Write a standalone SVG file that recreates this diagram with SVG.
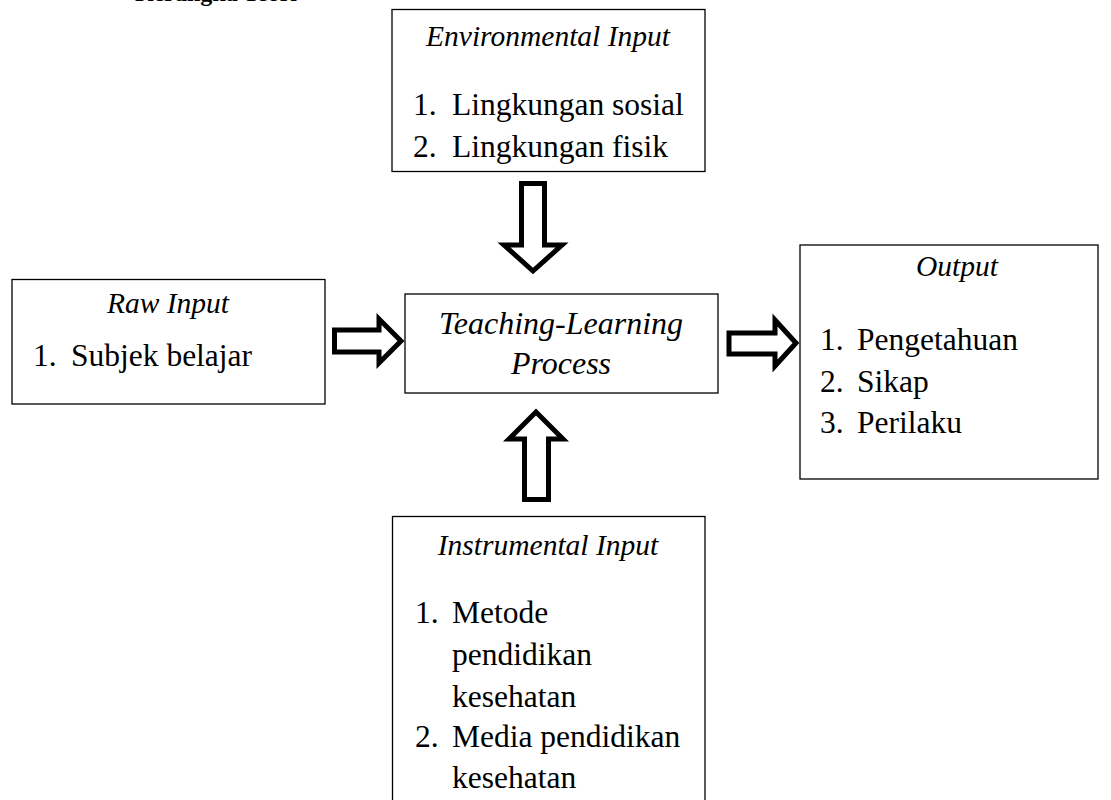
<svg xmlns="http://www.w3.org/2000/svg" width="1111" height="800" viewBox="0 0 1111 800">
<style>
.box{fill:#fff;stroke:#000;stroke-width:1.3}
.arrow{fill:#fff;stroke:#000;stroke-width:5;stroke-linejoin:miter}
.hd{font-family:"Liberation Serif","Times New Roman",serif;font-style:italic;font-size:29.5px;fill:#000}
.it{font-family:"Liberation Serif","Times New Roman",serif;font-size:31.5px;fill:#000}
.tl{font-family:"Liberation Serif","Times New Roman",serif;font-style:italic;font-size:32px;fill:#000}
.ttl{font-family:"Liberation Serif","Times New Roman",serif;font-weight:bold;font-size:24px;fill:#000}
</style>
<rect width="1111" height="800" fill="#fff"/>
<text class="ttl" x="135" y="0.8">Kerangka Teori</text>
<g id="environmental">
<rect class="box" x="392" y="9.5" width="313" height="162"/>
<text class="hd" x="548" y="46" text-anchor="middle">Environmental Input</text>
<text class="it" x="413" y="115">1.</text><text class="it" x="452" y="115">Lingkungan sosial</text>
<text class="it" x="413" y="157">2.</text><text class="it" x="452" y="157">Lingkungan fisik</text>
</g>
<g id="raw">
<rect class="box" x="12" y="279.5" width="313" height="124.5"/>
<text class="hd" x="168" y="313" text-anchor="middle">Raw Input</text>
<text class="it" x="33" y="366">1.</text><text class="it" x="71" y="366">Subjek belajar</text>
</g>
<g id="process">
<rect class="box" x="405" y="294" width="313" height="99"/>
<text class="tl" x="561" y="334" text-anchor="middle">Teaching-Learning</text>
<text class="tl" x="561" y="374" text-anchor="middle">Process</text>
</g>
<g id="output">
<rect class="box" x="800" y="245" width="298" height="234"/>
<text class="hd" x="957" y="276" text-anchor="middle">Output</text>
<text class="it" x="820" y="350">1.</text><text class="it" x="857" y="350">Pengetahuan</text>
<text class="it" x="820" y="392">2.</text><text class="it" x="857" y="392">Sikap</text>
<text class="it" x="820" y="433">3.</text><text class="it" x="857" y="433">Perilaku</text>
</g>
<g id="instrumental">
<rect class="box" x="392.5" y="516.5" width="312.5" height="300"/>
<text class="hd" x="548" y="555" text-anchor="middle">Instrumental Input</text>
<text class="it" x="415" y="623">1.</text><text class="it" x="452" y="623">Metode</text>
<text class="it" x="452" y="665">pendidikan</text>
<text class="it" x="452" y="707">kesehatan</text>
<text class="it" x="415" y="747">2.</text><text class="it" x="452" y="747">Media pendidikan</text>
<text class="it" x="452" y="788">kesehatan</text>
</g>
<g id="connectors">
<path class="arrow" d="M521.5,183.5 H544.5 V245 H562 L533,271 L504,245 H521.5 Z"/>
<path class="arrow" d="M524.5,499.5 V439 H509 L536,412 L563,439 H548.5 V499.5 Z"/>
<path class="arrow" d="M334.5,330 H379 V319 L401,341 L379,363 V352 H334.5 Z"/>
<path class="arrow" d="M729,333 H775 V320 L796,343 L775,366 V354 H729 Z"/>
</g>
</svg>
